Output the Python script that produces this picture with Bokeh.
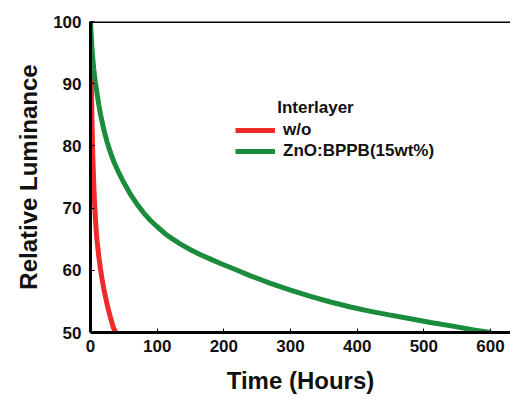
from bokeh.plotting import figure
from bokeh.models import Range1d, FixedTicker, Span, Label, Legend, LegendItem
from bokeh.embed import file_html
from bokeh.resources import INLINE

# Data
t_wo = [0, 0.5, 1, 1.5, 2, 2.5, 3, 4, 5, 6, 7.5, 9, 10, 12.5, 15, 17.5, 20, 22.5, 25, 27.5, 30, 32, 34, 36, 38]
L_wo = [100, 95.5, 91.5, 88, 85, 82.5, 80, 76.5, 73.5, 71, 68, 65.8, 64.6, 62.2, 60.2, 58.5, 57.0, 55.7, 54.5, 53.4, 52.4, 51.6, 50.9, 50.4, 50.0]

t_zno = [0, 1, 2, 3.5, 5, 7.5, 10, 12.5, 15, 20, 25, 30, 36, 42, 50, 60, 70, 80, 90, 100, 115, 135, 150, 165, 180, 195,
         220, 240, 270, 300, 330, 360, 390, 420, 450, 480, 510, 550, 575, 600]
L_zno = [100, 97.8, 96, 93.8, 92.2, 90.1, 88.3, 86.6, 85.1, 82.6, 80.6, 78.9, 77.2, 75.8, 74.1, 72.2, 70.6, 69.2, 68.0, 67.0, 65.6, 64.2, 63.3, 62.5, 61.8, 61.1,
         60.0, 59.1, 57.9, 56.8, 55.8, 54.9, 54.1, 53.4, 52.8, 52.2, 51.6, 50.9, 50.4, 50.0]

x_ticks = [0, 100, 200, 300, 400, 500, 600]
y_ticks = [50, 60, 70, 80, 90, 100]
legend_title = "Interlayer"
labels = ["w/o", "ZnO:BPPB(15wt%)"]

FONT = "Liberation Sans"

p = figure(width=510, height=396, output_backend="svg", toolbar_location=None,
           x_range=Range1d(0, 630), y_range=Range1d(50, 100),
           min_border_left=90, min_border_right=0, min_border_top=21, min_border_bottom=63)
p.outline_line_color = None
p.grid.visible = False
p.background_fill_color = "white"

for ax in (p.xaxis[0], p.yaxis[0]):
    ax.axis_line_width = 3
    ax.axis_line_color = "black"
    ax.major_tick_in = 4
    ax.major_tick_out = 0
    ax.major_tick_line_width = 1
    ax.minor_tick_line_color = None
    ax.major_label_text_font = FONT
    ax.major_label_text_font_style = "bold"
    ax.major_label_text_font_size = "17px"
    ax.major_label_text_color = "#111111"
    ax.axis_label_text_font = FONT
    ax.axis_label_text_font_style = "bold"
    ax.axis_label_text_font_size = "24px"
    ax.axis_label_text_color = "#111111"

p.xaxis.ticker = FixedTicker(ticks=x_ticks)
p.yaxis.ticker = FixedTicker(ticks=y_ticks)
p.xaxis.axis_label = "Time (Hours)"
p.yaxis.axis_label = "Relative Luminance"
p.xaxis.major_label_standoff = 7
p.yaxis.major_label_standoff = 9
p.xaxis.axis_label_standoff = 12
p.yaxis.axis_label_standoff = 8

p.add_layout(Span(location=100, dimension="width", line_color="black", line_width=3))

r1 = p.line(t_wo, L_wo, line_color="#ee2a2a", line_width=5)
r2 = p.line(t_zno, L_zno, line_color="#1b8c3c", line_width=5)

legend = Legend(items=[LegendItem(label=labels[0], renderers=[r1]),
                       LegendItem(label=labels[1], renderers=[r2])],
                location=(145, 171), padding=0, margin=0, spacing=1,
                glyph_width=40, glyph_height=20, label_height=20, label_standoff=8,
                border_line_color=None, background_fill_alpha=0,
                label_text_font=FONT, label_text_font_style="bold",
                label_text_font_size="17px", label_text_color="#111111")
p.add_layout(legend)

p.add_layout(Label(x=280, y=86.2, text=legend_title, text_font=FONT, text_font_style="bold",
                   text_font_size="17px", text_color="#111111", text_baseline="alphabetic"))

open("out.html", "w").write(file_html(p, INLINE))
